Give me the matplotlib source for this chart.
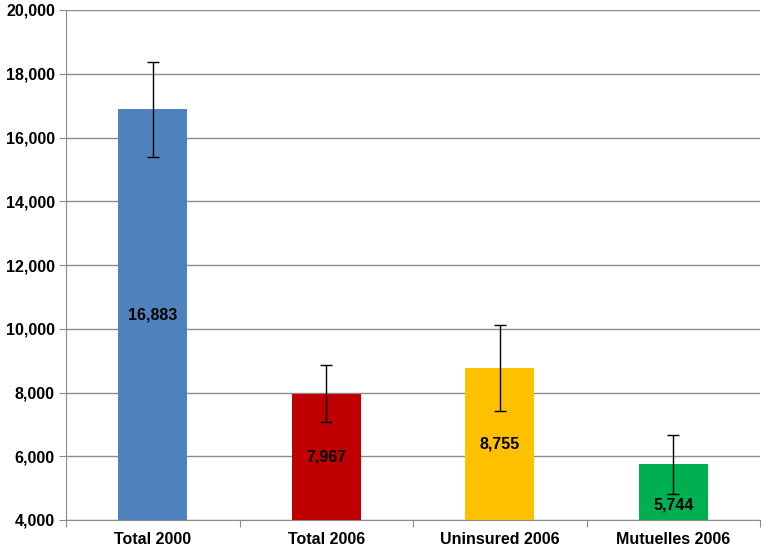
import numpy as np
import matplotlib.pyplot as plt

plt.rcParams['font.family'] = ['Liberation Sans', 'DejaVu Sans']

categories = ['Total 2000', 'Total 2006', 'Uninsured 2006', 'Mutuelles 2006']
values = [16883, 7967, 8755, 5744]
errors = [1490, 900, 1350, 925]
colors = ['#4F81BD', '#C00000', '#FFC000', '#00B050']
y_min, y_max = 4000, 20000

fig = plt.figure(figsize=(7.66, 5.49), dpi=100)
ax = fig.add_axes([66 / 766, 29 / 549, 694 / 766, 510 / 549])

x = np.arange(len(categories))
bottoms = [y_min] * len(values)
heights = [v - y_min for v in values]
ax.bar(x, heights, bottom=bottoms, width=0.4, color=colors, zorder=2)
ax.errorbar(x, values, yerr=errors, fmt='none', ecolor='black',
            elinewidth=1, capsize=4, capthick=1, zorder=3)

# labels sit in the middle of the visible bar; the short last one is
# pushed below its error bar like in the original
for xi, v, err in zip(x, values, errors):
    ly = (v + y_min) / 2
    low = v - err
    if ly > low - 300:
        ly = (low + y_min) / 2 + 50
    ax.text(xi, ly, f'{v:,}', ha='center', va='center',
            fontsize=11.5, fontweight='bold', zorder=4)

ax.set_ylim(y_min, y_max)
ax.set_xlim(-0.5, len(categories) - 0.5)
ax.set_yticks(range(y_min, y_max + 1, 2000))
ax.set_yticklabels([f'{t:,}' for t in range(y_min, y_max + 1, 2000)],
                   fontsize=11.5, fontweight='bold')
ax.yaxis.grid(True, color='#8C8C8C', linewidth=1, zorder=1)

ax.set_xticks(np.arange(-0.5, len(categories), 1.0))
ax.set_xticklabels([])
ax.set_xticks(x, minor=True)
ax.set_xticklabels(categories, minor=True, fontsize=11.5, fontweight='bold')
ax.tick_params(axis='x', which='minor', length=0, pad=9)
ax.tick_params(axis='x', which='major', length=5, color='#8C8C8C')
ax.tick_params(axis='y', length=5, color='#8C8C8C', pad=3)

for s in ['top', 'right']:
    ax.spines[s].set_visible(False)
for s in ['left', 'bottom']:
    ax.spines[s].set_color('#8C8C8C')

fig.savefig('out.png', dpi=100)
